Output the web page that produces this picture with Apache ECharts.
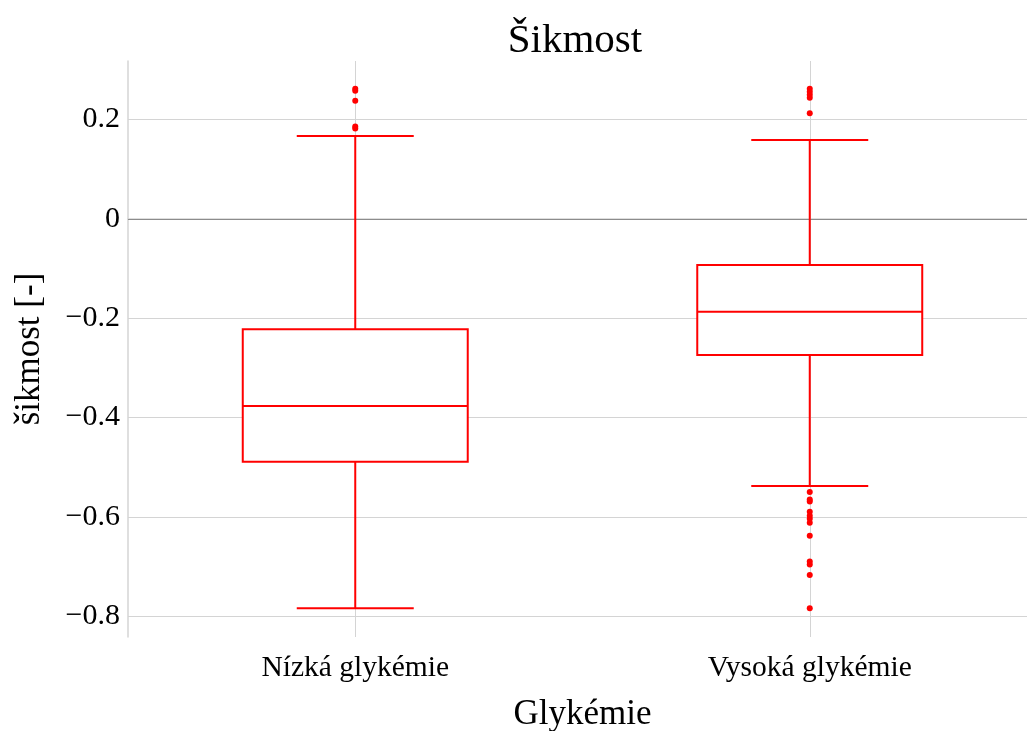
<!DOCTYPE html>
<html>
<head>
<meta charset="utf-8">
<title>Šikmost</title>
<script src="https://cdn.jsdelivr.net/npm/echarts@6/dist/echarts.min.js"></script>
<style>
  html, body { margin: 0; padding: 0; background: #fff; }
  #main { width: 1027px; height: 731px; }
</style>
</head>
<body>
<div id="main"></div>
<script>
// kategorie a statistiky boxplotu
var categories = ['Nízká glykémie', 'Vysoká glykémie'];
var whiskerLow = [-0.784, -0.538];
var q1 = [-0.489, -0.274];
var median = [-0.377, -0.187];
var q3 = [-0.222, -0.093];
var whiskerHigh = [0.167, 0.159];

// odlehlé hodnoty
var outliersLow = [0.262, 0.258, 0.238, 0.186, 0.182];
var outliersHigh = [0.262, 0.256, 0.250, 0.244, 0.213,
  -0.550, -0.565, -0.569, -0.590, -0.598, -0.604, -0.612, -0.638,
  -0.690, -0.696, -0.717, -0.784];

var yTicks = [-0.8, -0.6, -0.4, -0.2, 0, 0.2];

var boxData = categories.map(function (c, i) {
  return [i, whiskerLow[i], q1[i], median[i], q3[i], whiskerHigh[i]];
});
var outlierData = [];
outliersLow.forEach(function (v) { outlierData.push([0, v]); });
outliersHigh.forEach(function (v) { outlierData.push([1, v]); });

var serif = '"Liberation Serif", "DejaVu Serif", serif';
var gridColor = '#d4d4d4';

function fmt(v) {
  if (Math.abs(v) < 1e-9) return '0';
  return (v < 0 ? '\u2212' : '') + Math.abs(v).toFixed(1);
}

function renderBox(params, api) {
  var x = api.value(0);
  var band = api.size([1, 0])[0];
  var bw = band * 0.495;
  var cw = bw * 0.52;
  var pLow = api.coord([x, api.value(1)]);
  var pQ1 = api.coord([x, api.value(2)]);
  var pMed = api.coord([x, api.value(3)]);
  var pQ3 = api.coord([x, api.value(4)]);
  var pHigh = api.coord([x, api.value(5)]);
  var cx = pMed[0];
  var st = { stroke: '#ff0000', lineWidth: 2, fill: null };
  return {
    type: 'group',
    children: [
      { type: 'line', shape: { x1: cx, y1: pQ1[1], x2: cx, y2: pLow[1] }, style: st },
      { type: 'line', shape: { x1: cx, y1: pQ3[1], x2: cx, y2: pHigh[1] }, style: st },
      { type: 'line', shape: { x1: cx - cw / 2, y1: pLow[1], x2: cx + cw / 2, y2: pLow[1] }, style: st },
      { type: 'line', shape: { x1: cx - cw / 2, y1: pHigh[1], x2: cx + cw / 2, y2: pHigh[1] }, style: st },
      { type: 'rect', shape: { x: cx - bw / 2, y: pQ3[1], width: bw, height: pQ1[1] - pQ3[1] }, style: { stroke: '#ff0000', lineWidth: 2, fill: '#ffffff' } },
      { type: 'line', shape: { x1: cx - bw / 2, y1: pMed[1], x2: cx + bw / 2, y2: pMed[1] }, style: st }
    ]
  };
}

var chart = echarts.init(document.getElementById('main'));

var option = {
  animation: false,
  backgroundColor: '#ffffff',
  title: {
    text: 'Šikmost',
    left: 570,
    top: 16,
    textAlign: 'center',
    textStyle: { fontFamily: serif, fontSize: 41, fontWeight: 'normal', color: '#000' }
  },
  grid: { left: 128, right: -10, top: 61, bottom: 94, outerBoundsMode: 'none', containLabel: false },
  xAxis: {
    type: 'category',
    data: categories,
    name: 'Glykémie',
    nameLocation: 'middle',
    nameGap: 60,
    nameTextStyle: { fontFamily: serif, fontSize: 35, color: '#000' },
    axisLine: { show: true, lineStyle: { color: gridColor, width: 1.5 } },
    axisTick: { show: false },
    axisLabel: { fontFamily: serif, fontSize: 29.5, color: '#000', margin: 16 },
    splitLine: { show: false }
  },
  yAxis: {
    type: 'value',
    min: -0.842,
    max: 0.318,
    name: 'šikmost [-]',
    nameLocation: 'middle',
    nameGap: 81,
    nameTextStyle: { fontFamily: serif, fontSize: 35, color: '#000' },
    axisLine: { show: true, lineStyle: { color: gridColor, width: 1.5 } },
    axisTick: { show: false, customValues: yTicks },
    axisLabel: {
      customValues: yTicks,
      fontFamily: serif, fontSize: 30, color: '#000', margin: 8,
      formatter: fmt
    },
    splitLine: { show: false }
  },
  series: [
    {
      type: 'line',
      data: [],
      silent: true,
      z: 0,
      markLine: {
        silent: true,
        z: 0,
        symbol: 'none',
        label: { show: false },
        lineStyle: { color: gridColor, width: 1, type: 'solid' },
        data: yTicks.filter(function (v) { return v !== 0; }).map(function (v) { return { yAxis: v }; })
          .concat(categories.map(function (c) { return { xAxis: c }; }))
      }
    },
    {
      type: 'line',
      data: [],
      silent: true,
      z: 0,
      markLine: {
        silent: true,
        z: 1,
        symbol: 'none',
        label: { show: false },
        lineStyle: { color: '#8c8c8c', width: 1.2, type: 'solid' },
        data: [{ yAxis: 0 }]
      }
    },
    {
      type: 'custom',
      renderItem: renderBox,
      encode: { x: 0, y: [1, 2, 3, 4, 5] },
      data: boxData,
      z: 3
    },
    {
      type: 'scatter',
      data: outlierData,
      symbolSize: 6,
      itemStyle: { color: '#ff0000', opacity: 1 },
      z: 4
    }
  ]
};

chart.setOption(option);
</script>
</body>
</html>
